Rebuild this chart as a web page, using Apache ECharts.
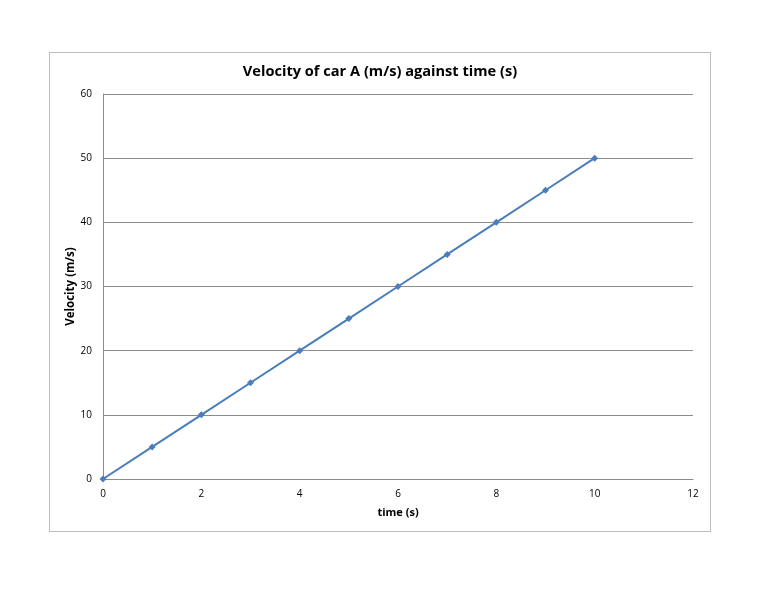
<!DOCTYPE html>
<html><head><meta charset="utf-8">
<script src="https://cdn.jsdelivr.net/npm/echarts@6/dist/echarts.min.js"></script>
<style>html,body{margin:0;padding:0;background:#fff}#c{width:768px;height:594px}</style>
</head><body><div id="c"></div>
<script>
const timeValues = [0, 1, 2, 3, 4, 5, 6, 7, 8, 9, 10];
const velocityValues = [0, 5, 10, 15, 20, 25, 30, 35, 40, 45, 50];
const titleText = 'Velocity of car A (m/s) against time (s)';
const xName = 'time (s)';
const yName = 'Velocity (m/s)';

const chart = echarts.init(document.getElementById('c'));
const font = '"Open Sans", "Noto Sans", sans-serif';
chart.setOption({
  animation: false,
  backgroundColor: '#fff',
  graphic: [{
    type: 'rect', silent: true,
    shape: { x: 49.5, y: 52.5, width: 661, height: 479 },
    style: { fill: 'none', stroke: '#bdbdbd', lineWidth: 1 }
  }],
  title: {
    text: titleText, left: 375, top: 59, textAlign: 'center',
    textStyle: { fontFamily: font, fontSize: 14.6, fontWeight: 'bold', color: '#000' }
  },
  grid: { left: 103, right: 75, top: 94, bottom: 115 },
  xAxis: {
    type: 'value', min: 0, max: 12, interval: 2,
    name: xName, nameLocation: 'middle', nameGap: 28,
    nameTextStyle: { fontFamily: font, fontSize: 11, fontWeight: 'bold', color: '#000' },
    axisLine: { show: true, lineStyle: { color: '#8c8c8c' } },
    axisTick: { show: false },
    axisLabel: { fontFamily: font, fontSize: 10, color: '#000', margin: 10 },
    splitLine: { show: false }
  },
  yAxis: {
    type: 'value', min: 0, max: 60, interval: 10,
    name: yName, nameLocation: 'middle', nameGap: 26, nameRotate: 90,
    nameMoveOverlap: false,
    nameTextStyle: { fontFamily: font, fontSize: 11.5, fontWeight: 'bold', color: '#000' },
    axisLine: { show: true, lineStyle: { color: '#8c8c8c' } },
    axisTick: { show: false },
    axisLabel: { fontFamily: font, fontSize: 10, color: '#000', margin: 11 },
    splitLine: { show: true, lineStyle: { color: '#8c8c8c', width: 1 } }
  },
  series: [{
    type: 'line',
    data: timeValues.map((t, i) => [t, velocityValues[i]]),
    symbol: 'diamond', symbolSize: 7,
    lineStyle: { color: '#4a7ebb', width: 2 },
    itemStyle: { color: '#4a7ebb' }
  }]
});
</script></body></html>
